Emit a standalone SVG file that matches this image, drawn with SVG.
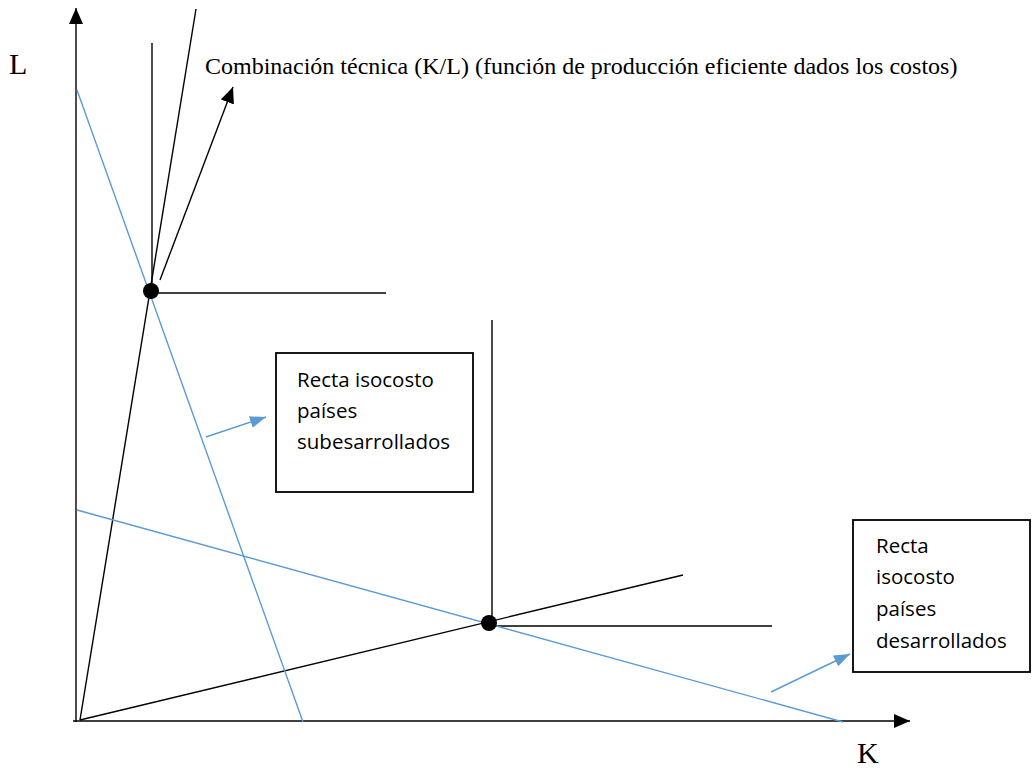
<svg xmlns="http://www.w3.org/2000/svg" width="1032" height="768" viewBox="0 0 1032 768">
<style>
.ln{stroke:#000;stroke-width:1.4;fill:none}
.bl{stroke:#5B9BD5;stroke-width:1.4;fill:none}
.box{fill:#fff;stroke:#000;stroke-width:1.8}
.serif{font-family:"Liberation Serif","Times New Roman",serif;fill:#000}
.sans{font-family:"Open Sans","Noto Sans",sans-serif;font-size:20.5px;fill:#000}
</style>
<defs>
<marker id="ab" viewBox="0 0 16 14" refX="16" refY="7" markerWidth="16" markerHeight="14" markerUnits="userSpaceOnUse" orient="auto"><path d="M0,0 L16,7 L0,14 Z" fill="#000"/></marker>
<marker id="abl" viewBox="0 0 16 12" refX="16" refY="6" markerWidth="16" markerHeight="12" markerUnits="userSpaceOnUse" orient="auto"><path d="M0,0 L16,6 L0,12 Z" fill="#5B9BD5"/></marker>
</defs>
<rect width="1032" height="768" fill="#fff"/>
<g id="axes">
<line class="ln" x1="76" y1="722" x2="76" y2="8" marker-end="url(#ab)"/>
<line class="ln" x1="73" y1="721" x2="910" y2="721" marker-end="url(#ab)"/>
<text class="serif" x="9" y="74" font-size="30">L</text>
<text class="serif" x="857" y="763" font-size="30">K</text>
</g>
<g id="connectors">
<line class="ln" x1="80" y1="720" x2="196" y2="9"/>
<line class="ln" x1="80" y1="720" x2="683" y2="575"/>
<line class="ln" x1="152" y1="43" x2="152" y2="291"/>
<line class="ln" x1="151" y1="293" x2="386" y2="293"/>
<line class="ln" x1="492" y1="320" x2="492" y2="624"/>
<line class="ln" x1="489" y1="626" x2="772" y2="626"/>
<line class="ln" x1="160" y1="280" x2="233" y2="87" marker-end="url(#ab)"/>
<line class="bl" x1="77" y1="90" x2="303" y2="722"/>
<line class="bl" x1="77" y1="510" x2="843" y2="722"/>
<line class="bl" x1="206" y1="437" x2="266" y2="417" marker-end="url(#abl)"/>
<line class="bl" x1="771" y1="692" x2="850" y2="654" marker-end="url(#abl)"/>
</g>
<g id="dot-subdesarrollados"><circle cx="151" cy="291" r="8" fill="#000"/></g>
<g id="dot-desarrollados"><circle cx="489" cy="623" r="8" fill="#000"/></g>
<g id="title"><text class="serif" x="205" y="74" font-size="24">Combinación técnica (K/L) (función de producción eficiente dados los costos)</text></g>
<g id="box-subdesarrollados">
<rect class="box" x="276" y="353" width="197" height="139"/>
<text class="sans" x="297" y="387">Recta isocosto</text>
<text class="sans" x="297" y="418">países</text>
<text class="sans" x="297" y="449">subesarrollados</text>
</g>
<g id="box-desarrollados">
<rect class="box" x="853" y="520" width="177" height="152"/>
<text class="sans" x="876" y="553">Recta</text>
<text class="sans" x="876" y="584">isocosto</text>
<text class="sans" x="876" y="616">países</text>
<text class="sans" x="876" y="648">desarrollados</text>
</g>
</svg>
